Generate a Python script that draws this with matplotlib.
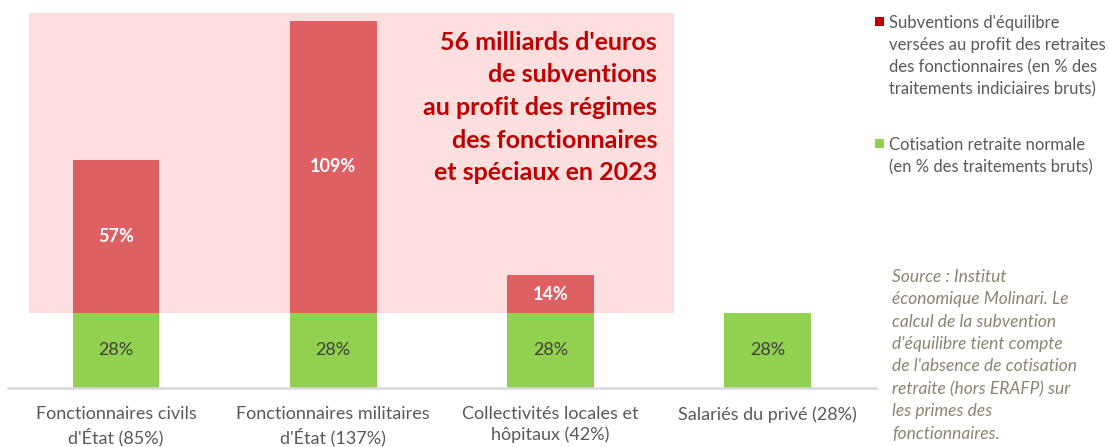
import matplotlib
matplotlib.use('Agg')
import matplotlib.pyplot as plt
from matplotlib.patches import Rectangle
import numpy as np

# data
categories = ["Fonctionnaires civils\nd'État (85%)",
              "Fonctionnaires militaires\nd'État (137%)",
              "Collectivités locales et\nhôpitaux (42%)",
              "Salariés du privé (28%)"]
cotisation = [28, 28, 28, 28]
subvention = [57, 109, 14, 0]

legend_labels = ["Subventions d'équilibre\nversées au profit des retraites\ndes fonctionnaires (en % des\ntraitements indiciaires bruts)",
                 "Cotisation retraite normale\n(en % des traitements bruts)"]
title_text = ("56 milliards d'euros\nde subventions\nau profit des régimes\n"
              "des fonctionnaires\net spéciaux en 2023")
source_text = ("Source : Institut\néconomique Molinari. Le\ncalcul de la subvention\n"
               "d'équilibre tient compte\nde l'absence de cotisation\nretraite (hors ERAFP) sur\n"
               "les primes des\nfonctionnaires.")

W, H = 1109, 447
green = '#92D050'
red_bar = '#DF6062'
red_leg = '#C00000'
pink = '#FDDFE0'
grey_txt = '#595959'

plt.rcParams['font.family'] = ['Lato', 'DejaVu Sans']

fig = plt.figure(figsize=(W / 100, H / 100), dpi=100)
ax = fig.add_axes([7.5 / W, 59 / H, (876 - 7.5) / W, (388 - 2) / H])

x = np.arange(len(categories))
ax.set_xlim(-0.5, 3.5)
ax.set_ylim(0, 144)

# pink highlight box behind the subventions
ax.add_patch(Rectangle((-0.40, 28), 2.97, 112, facecolor=pink, edgecolor='none', zorder=0))

b1 = ax.bar(x, cotisation, width=0.4, color=green, zorder=2)
sub = np.array(subvention, dtype=float)
b2 = ax.bar(x[sub > 0], sub[sub > 0], bottom=np.array(cotisation)[sub > 0],
            width=0.4, color=red_bar, zorder=2)

ax.bar_label(b1, labels=['%d%%' % v for v in cotisation], label_type='center',
             color='#404040', fontsize=13)
ax.bar_label(b2, labels=['%d%%' % v for v in sub[sub > 0]], label_type='center',
             color='white', fontsize=13, fontweight='bold')

for s in ['top', 'right', 'left']:
    ax.spines[s].set_visible(False)
ax.spines['bottom'].set_color('#D9D9D9')
ax.spines['bottom'].set_linewidth(1.8)
ax.set_yticks([])
ax.set_xticks(x)
ax.set_xticklabels(categories, fontsize=13, color=grey_txt, va='top', linespacing=1.35)
ax.tick_params(axis='x', length=0, pad=13)

fig.text(657 / W, 1 - 31 / H, title_text, ha='right', va='top', color=red_leg,
         fontsize=18, fontweight='bold', linespacing=1.5)

# legend drawn by hand
for col, lab, ytop in [(red_leg, legend_labels[0], 15), (green, legend_labels[1], 137)]:
    fig.patches.append(Rectangle((875 / W, 1 - (ytop + 11) / H), 9 / W, 9 / H,
                                 transform=fig.transFigure, facecolor=col,
                                 edgecolor='none'))
    fig.text(889 / W, 1 - ytop / H, lab, ha='left', va='top', color=grey_txt,
             fontsize=12, linespacing=1.47)

fig.text(892 / W, 1 - 269 / H, source_text, ha='left', va='top', color='#8C8470',
         fontsize=12.5, style='italic', linespacing=1.49)

fig.savefig('out.png', dpi=100)
